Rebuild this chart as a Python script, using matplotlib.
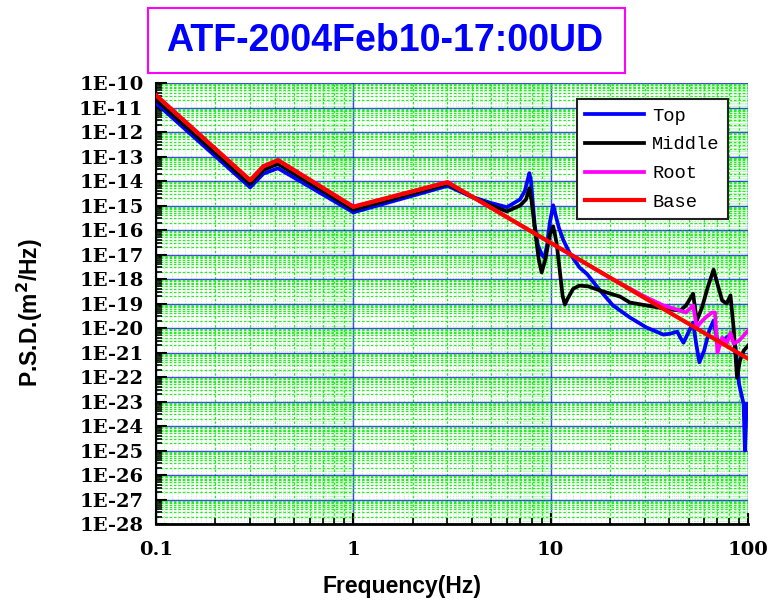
import numpy as np
import matplotlib
matplotlib.use("Agg")
import matplotlib.pyplot as plt
from matplotlib.ticker import FixedLocator, FixedFormatter, NullFormatter
from matplotlib.patches import Rectangle

# ---------------- data (log10 of PSD) ----------------
top_f = [0.1, 0.3, 0.35, 0.415, 1, 3, 4, 5, 6, 7, 7.4, 7.65, 7.8, 7.95, 8.1, 8.3, 8.6,
         9.0, 9.3, 9.6, 9.9, 10.3, 10.6, 11.0, 11.6, 12.5, 14, 15.3, 17.8, 20.7, 25.2,
         30.6, 37.3, 40.4, 43.8, 45.4, 47.1, 49.3, 52.7, 54.6, 56.7, 59.9, 63.6, 66.9,
         70, 74, 78, 82.8, 86.6, 90, 95, 96.5, 98.5, 100]
top_logp = [-10.82, -14.26, -13.7, -13.48, -15.28, -14.2, -14.65, -14.9, -15.07, -14.75,
            -14.4, -13.95, -13.68, -14.0, -14.8, -15.8, -16.6, -17.0, -17.12, -16.6,
            -15.7, -14.99, -15.4, -15.9, -16.42, -16.95, -17.53, -17.8, -18.47, -19.08,
            -19.57, -19.98, -20.27, -20.23, -20.15, -20.39, -20.6, -20.27, -19.78, -20.64,
            -21.4, -20.93, -20.11, -19.7, -20.52, -20.52, -20.39, -20.23, -20.8, -22.27,
            -23.1, -25.0, -23.1, -23.1]

mid_f = [0.1, 0.3, 0.35, 0.415, 1, 3, 4, 5, 6, 7, 7.5, 7.8, 8.0, 8.3, 8.7, 9.0, 9.4,
         9.9, 10.3, 10.7, 11.1, 11.5, 11.8, 12.2, 13, 14.0, 15.5, 17.8, 22.5, 25.2, 37.3,
         45.4, 48.5, 52.7, 55, 58.5, 62.5, 66.9, 70, 74, 78, 81.5, 84.5, 88, 91, 95, 100]
mid_logp = [-10.68, -14.12, -13.55, -13.3, -15.17, -14.12, -14.65, -15.0, -15.24, -15.0,
            -14.75, -14.3, -14.8, -15.9, -17.2, -17.73, -17.2, -16.2, -15.85, -16.5,
            -17.6, -18.7, -19.04, -18.8, -18.4, -18.27, -18.3, -18.47, -18.72, -18.96,
            -19.2, -19.29, -19.08, -18.6, -19.7, -19.16, -18.34, -17.62, -18.2, -18.88,
            -19.0, -18.67, -19.98, -22.03, -21.33, -20.93, -20.72]

root_f = [0.1, 0.3, 0.35, 0.415, 1, 3, 20, 30, 37.3, 45.4, 48.5, 52.7, 55, 57.5, 61,
          65.5, 68, 70, 74, 78, 81.5, 84.5, 90, 100]
root_logp = [-10.5, -13.97, -13.4, -13.15, -15.05, -14.05, -17.95, -18.72, -19.08, -19.29,
             -19.37, -19.08, -19.98, -19.78, -19.57, -19.37, -19.37, -21.0, -20.39, -20.64,
             -20.19, -20.64, -20.52, -20.11]

base_f = [0.1, 0.3, 0.35, 0.415, 1, 3, 100]
base_logp = [-10.5, -13.97, -13.4, -13.15, -15.05, -14.05, -21.25]

series_names = ["Top", "Middle", "Root", "Base"]
series_colors = ["#0000ff", "#000000", "#ff00ff", "#ff0000"]

xtick_vals = [0.1, 1, 10, 100]
xtick_labels = ["0.1", "1", "10", "100"]
ytick_exps = list(range(-28, -9))
ytick_labels = ["1E%d" % e for e in ytick_exps]

title_text = "ATF-2004Feb10-17:00UD"
xlabel_text = "Frequency(Hz)"
ylabel_text = r"P.S.D.(m$^\mathbf{2}$/Hz)"

# ---------------- figure ----------------
W, H = 769, 601
fig = plt.figure(figsize=(W / 100, H / 100), dpi=100)
L, R, T, B = 156, 748, 83, 524
ax = fig.add_axes([L / W, 1 - B / H, (R - L) / W, (B - T) / H])
ax.set_xscale("log")
ax.set_yscale("log")
ax.set_xlim(0.1, 100)
ax.set_ylim(1e-28, 1e-10)

# grids
for dec in [0.1, 1, 10]:
    for k in np.arange(1.1, 10, 0.1):
        if abs(k - round(k)) < 1e-6:
            continue
        ax.axvline(dec * k, color="#b8f5b8", lw=0.6, ls=(0, (1.5, 1.5)), zorder=0)
ax.grid(which="minor", color="#22ee22", lw=0.9, ls=(0, (2, 1.5)), zorder=0)
ax.grid(which="major", color="#0000ff", lw=1.0, ls="-", alpha=0.75, zorder=0.5)
ax.set_axisbelow(True)

datas = [(top_f, top_logp), (mid_f, mid_logp), (root_f, root_logp), (base_f, base_logp)]
lws = [2.7, 2.7, 2.7, 3.0]
for (f, lp), name, c, lw in zip(datas, series_names, series_colors, lws):
    ax.plot(f, 10.0 ** np.array(lp), color=c, lw=lw, label=name, zorder=3)

# ticks
ax.xaxis.set_major_locator(FixedLocator(xtick_vals))
ax.xaxis.set_major_formatter(FixedFormatter(xtick_labels))
ax.xaxis.set_minor_locator(FixedLocator([d * k for d in [0.1, 1, 10] for k in range(2, 10)]))
ax.xaxis.set_minor_formatter(NullFormatter())
yvals = [10.0 ** e for e in ytick_exps]
ax.yaxis.set_major_locator(FixedLocator(yvals))
ax.yaxis.set_major_formatter(FixedFormatter(ytick_labels))
ax.yaxis.set_minor_locator(FixedLocator([10.0 ** e * k for e in ytick_exps[:-1] for k in range(2, 10)]))
ax.yaxis.set_minor_formatter(NullFormatter())
ax.tick_params(which="both", direction="in", top=False, right=False, color="black")
ax.tick_params(which="major", length=8, width=1.5)
ax.tick_params(axis="y", which="major", pad=9)
ax.tick_params(axis="x", which="major", pad=12)
ax.tick_params(which="minor", length=4, width=1.2)
for lab in ax.get_xticklabels() + ax.get_yticklabels():
    lab.set_fontfamily("DejaVu Serif")
    lab.set_fontweight("bold")
    lab.set_fontsize(14)

for s in ["top", "right"]:
    ax.spines[s].set_visible(False)
ax.spines["left"].set_linewidth(1.5)
ax.spines["bottom"].set_linewidth(2.0)

# legend
leg = ax.legend(loc="upper left", bbox_to_anchor=(577 / W, 1 - 99 / H),
                bbox_transform=fig.transFigure, borderaxespad=0, frameon=True,
                fancybox=False, framealpha=1, edgecolor="#222222",
                prop={"family": "Liberation Mono", "size": 13.5},
                handlelength=3.1, labelspacing=0.62, borderpad=0.45, handletextpad=0.45)
leg.get_frame().set_linewidth(1.5)
leg.set_zorder(5)

# title box
fig.patches.append(Rectangle((148 / W, 1 - 73 / H), (625 - 148) / W, (73 - 8) / H,
                             transform=fig.transFigure, fill=False,
                             edgecolor="#ff00ff", lw=1.5))
fig.text(385 / W, 1 - 41 / H, title_text, ha="center", va="center",
         color="#0000ff", fontsize=27, fontweight="bold", family="Liberation Sans")

fig.text(402 / W, 1 - 586 / H, xlabel_text, ha="center", va="center",
         fontsize=16.5, fontweight="bold", family="Liberation Sans")
fig.text(30 / W, 1 - 313 / H, ylabel_text, ha="center", va="center", rotation=90,
         fontsize=16.5, fontweight="bold", family="Liberation Sans")

fig.savefig("out.png", dpi=100)
